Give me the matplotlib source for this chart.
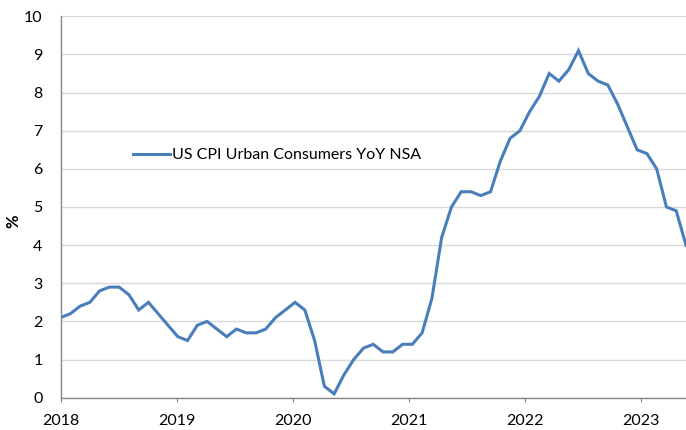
import matplotlib
matplotlib.use("Agg")
import matplotlib.pyplot as plt
import numpy as np

plt.rcParams['font.family'] = ['Lato', 'DejaVu Sans']

# Monthly US CPI YoY (%), Jan 2018 - May 2023
cpi_2018 = [2.1, 2.2, 2.4, 2.5, 2.8, 2.9, 2.9, 2.7, 2.3, 2.5, 2.2, 1.9]
cpi_2019 = [1.6, 1.5, 1.9, 2.0, 1.8, 1.6, 1.8, 1.7, 1.7, 1.8, 2.1, 2.3]
cpi_2020 = [2.5, 2.3, 1.5, 0.3, 0.1, 0.6, 1.0, 1.3, 1.4, 1.2, 1.2, 1.4]
cpi_2021 = [1.4, 1.7, 2.6, 4.2, 5.0, 5.4, 5.4, 5.3, 5.4, 6.2, 6.8, 7.0]
cpi_2022 = [7.5, 7.9, 8.5, 8.3, 8.6, 9.1, 8.5, 8.3, 8.2, 7.7, 7.1, 6.5]
cpi_2023 = [6.4, 6.0, 5.0, 4.9, 4.0]
year_labels = ["2018", "2019", "2020", "2021", "2022", "2023"]
y_ticks = [0, 1, 2, 3, 4, 5, 6, 7, 8, 9, 10]
series_name = "US CPI Urban Consumers YoY NSA"

values = cpi_2018 + cpi_2019 + cpi_2020 + cpi_2021 + cpi_2022 + cpi_2023
x = np.arange(len(values))

fig = plt.figure(figsize=(6.86, 4.30), dpi=100)
ax = fig.add_axes([60.5 / 686, 1 - 397.7 / 430, 1 - 60.5 / 686, (397.7 - 16.3) / 430])

line_color = '#4a7ebb'
ax.plot(x, values, color=line_color, linewidth=2.2, label=series_name,
        solid_joinstyle='miter', clip_on=True)

ax.set_xlim(0, 64)
ax.set_ylim(0, 10)

# year ticks (axis spacing ~11.886 months per year unit as in the reference)
year_step = 11.886
ax.set_xticks([i * year_step for i in range(len(year_labels))])
ax.set_xticklabels(year_labels)
ax.set_yticks(y_ticks)
ax.set_yticklabels([str(v) for v in y_ticks])

ax.grid(axis='y', color='#d9d9d9', linewidth=1.0)
ax.set_axisbelow(True)
for s in ['top', 'right']:
    ax.spines[s].set_visible(False)
for s in ['left', 'bottom']:
    ax.spines[s].set_color('#868686')
    ax.spines[s].set_linewidth(1.0)

ax.tick_params(axis='x', direction='out', length=3, color='#868686', pad=9,
               labelsize=11.5, labelcolor='black')
ax.tick_params(axis='y', length=0, pad=13, labelsize=11.5, labelcolor='black')

ax.set_ylabel('%', fontsize=12, fontweight='bold', va='center', ha='center')
ax.yaxis.set_label_coords((13 - 60.5) / 625.5, (397.7 - 221) / 381.4)

leg = ax.legend(loc='center left', bbox_to_anchor=(133 / 686, 1 - 155 / 430),
                bbox_transform=fig.transFigure, frameon=False, borderpad=0,
                borderaxespad=0, handlelength=2.3, handletextpad=0.15,
                fontsize=11.5)

fig.savefig('out.png', dpi=100)
